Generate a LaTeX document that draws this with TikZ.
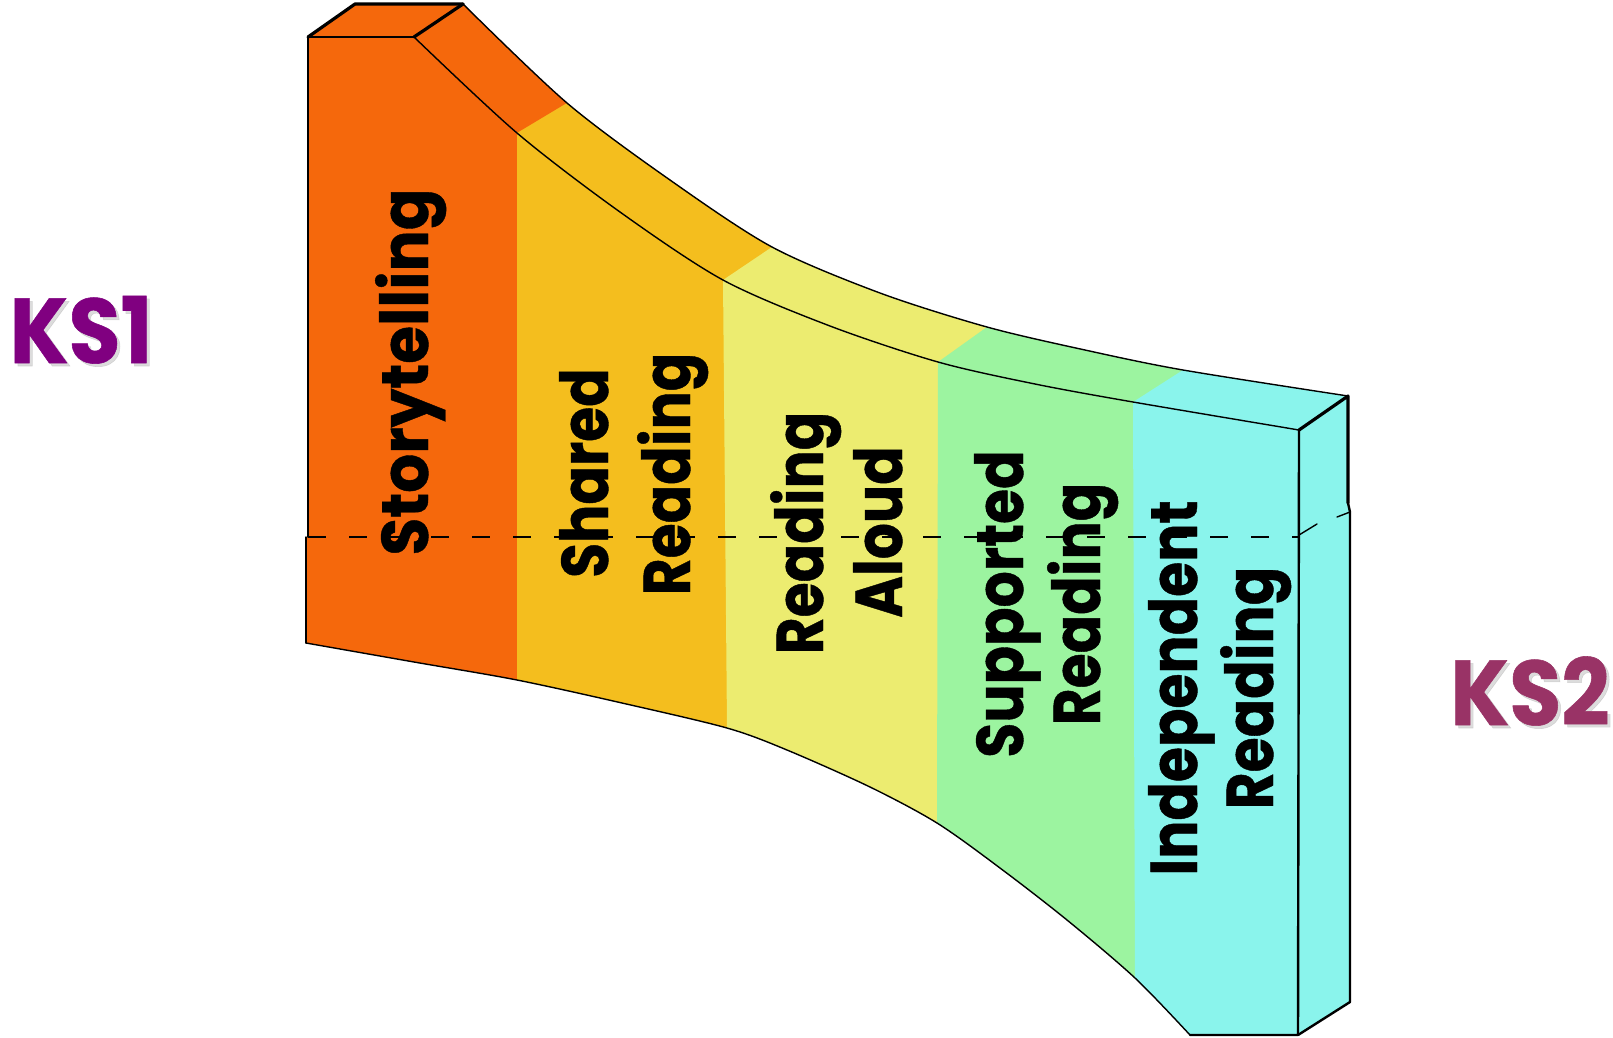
\documentclass[tikz,border=0pt]{standalone}
\usepackage{fontspec}
\newfontfamily\labfont{Poppins}[FakeStretch=0.86,FakeBold=0.6]
\newfontfamily\labwidefont{Poppins}[FakeStretch=0.93,FakeBold=0.6]
\newfontfamily\ksfont{Poppins}[FakeStretch=0.92,FakeBold=0.6]
\definecolor{cOr}{RGB}{245,104,12}
\definecolor{cYe}{RGB}{244,190,30}
\definecolor{cLy}{RGB}{236,236,112}
\definecolor{cGr}{RGB}{156,244,160}
\definecolor{cCy}{RGB}{138,244,236}
\definecolor{ksone}{RGB}{128,0,128}
\definecolor{kstwo}{RGB}{153,51,102}
\begin{document}
\begin{tikzpicture}[x=1pt,y=-1pt,
  lab/.style={rotate=90, anchor=base, inner sep=0pt, text=black,
    font=\labfont\bfseries\fontsize{66}{70}\selectfont},
  labwide/.style={lab, font=\labwidefont\bfseries\fontsize{66}{70}\selectfont},
  ks/.style={anchor=base, inner sep=0pt,
    font=\ksfont\bfseries\fontsize{92}{96}\selectfont},
  ksshadow/.style={ks, text=black!30, opacity=0.45},
  thinline/.style={line width=1.4pt, line join=round, line cap=round},
  midline/.style={line width=2.4pt, line join=round, line cap=round},
  thickline/.style={line width=3.2pt, line join=round, line cap=round},
  dashline/.style={line width=1.4pt, dash pattern=on 18pt off 23pt}]
\useasboundingbox (0,0) rectangle (1613,1037);

% ---------- coloured bands ----------
\begin{scope}
\clip (308,37) -- (355,4) -- plot[smooth] coordinates {(463,4) (567,103) (670,180) (772,247) (880,293) (987,327) (1085,350) (1183,370) (1348,396)}
  -- (1348,503) -- (1350,512) -- (1350,1002) -- (1298,1035)
  -- plot[smooth] coordinates {(1190,1035) (1135,978) (1067,920) (1000,868) (937,823) (870,787) (787,750) (727,728) (622,703) (517,680) (414,662) (306,643)}
  -- (306,537) -- (308,537) -- cycle;
\fill[cOr] (0,-100) rectangle (1700,1100);
\fill[cYe] (517,1100) -- (517,680) -- (517,133) -- (567,103) -- (812,-62) -- (1700,-100) -- (1700,1100) -- cycle;
\fill[cLy] (727,1100) -- (727,728) -- (723,280) -- (772,247) -- (1017,-118) -- (1700,-120) -- (1700,1100) -- cycle;
\fill[cGr] (937,1100) -- (937,823) -- (938,362) -- (987,327) -- (1232,-138) -- (1700,-140) -- (1700,1100) -- cycle;
\fill[cCy] (1135,1100) -- (1135,978) -- (1133,402) -- (1183,370) -- (1428,-165) -- (1700,-165) -- (1700,1100) -- cycle;
\end{scope}

% ---------- outlines ----------
% front face
\draw[thinline] (308,537) -- (308,37) -- (414,37);
\draw[thinline] (306,537) -- (306,643);
\draw[thinline] plot[smooth] coordinates {(414,37) (517,133) (620,212) (723,280) (830,326) (938,362) (1035,384) (1133,402) (1299,430)};
\draw[thinline] plot[smooth] coordinates {(306,643) (414,662) (517,680) (622,703) (727,728) (787,750) (870,787) (937,823) (1000,868) (1067,920) (1135,978) (1190,1035)};
\draw[midline] (1299,430) -- (1298,1035) -- (1190,1035);
% top face
\draw[thickline] (308,37) -- (355,4) -- (463,4);
\draw[thickline] (414,37) -- (463,4);
\draw[thinline] plot[smooth] coordinates {(463,4) (567,103) (670,180) (772,247) (880,293) (987,327) (1085,350) (1183,370) (1348,396)};
% side face
\draw[thickline] (1299,430) -- (1348,396) -- (1348,503);
\draw[midline] (1348,503) -- (1350,512) -- (1350,1002) -- (1298,1035);

% ---------- dashed level line ----------
\draw[dashline] (308,537) -- (1299,537);
\draw[thinline] (1299,535) -- (1317,524);
\draw[thinline] (1337,517) -- (1350,512);

% ---------- labels ----------
\node[labwide] (st)  at (428,372) {Storytelling};
\node[lab] (sh1) at (608,473) {Shared};
\node[lab] (sh2) at (690,474) {Reading};
\node[lab] (ra1) at (823,533) {Reading};
\node[lab] (ra2) at (902,532) {Aloud};
\node[lab] (su1) at (1023,604) {Supported};
\node[lab] (su2) at (1100,604) {Reading};
\node[lab] (in1) at (1197,688) {Independent};
\node[lab] (in2) at (1273,688) {Reading};

\node[ksshadow] (ks1s) at (84,366) {KS1};
\node[ks, text=ksone] (ks1) at (81,363) {KS1};
\node[ksshadow] (ks2s) at (1533,728) {KS2};
\node[ks, text=kstwo] (ks2) at (1530,725) {KS2};
\end{tikzpicture}
\end{document}
